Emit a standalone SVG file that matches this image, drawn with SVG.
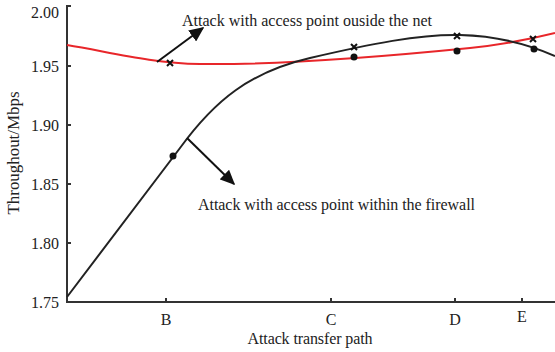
<svg xmlns="http://www.w3.org/2000/svg" width="555" height="352" viewBox="0 0 555 352">
  <defs>
    <style>
      .axis { stroke: #333; stroke-width: 2; fill: none; }
      .tick { stroke: #333; stroke-width: 2; }
      .lbl { font-family: "Liberation Serif", "Times New Roman", serif; font-size: 16px; fill: #222; }
      .black { stroke: #222; stroke-width: 2; fill: none; }
      .red { stroke: #e8262a; stroke-width: 2; fill: none; }
      .cross { stroke: #111; stroke-width: 2; }
      .dot { fill: #111; }
      .arrow { stroke: #111; stroke-width: 2; fill: none; }
    </style>
    <marker id="head" viewBox="0 0 10 9" refX="9" refY="4.5" markerWidth="7.5" markerHeight="6.75" markerUnits="strokeWidth" orient="auto">
      <path d="M0,0 L10,4.5 L0,9 Z" fill="#111"/>
    </marker>
  </defs>

  <rect width="555" height="352" fill="#fff"/>

  <!-- axes -->
  <g id="axes">
    <path class="axis" d="M67,5 L67,302 L555,302"/>
    <g class="tick">
      <line x1="67" y1="6" x2="71" y2="6"/>
      <line x1="67" y1="66" x2="71" y2="66"/>
      <line x1="67" y1="125" x2="71" y2="125"/>
      <line x1="67" y1="184" x2="71" y2="184"/>
      <line x1="67" y1="243" x2="71" y2="243"/>
      <line x1="166" y1="302" x2="166" y2="298"/>
      <line x1="331" y1="302" x2="331" y2="298"/>
      <line x1="455" y1="302" x2="455" y2="298"/>
      <line x1="522" y1="302" x2="522" y2="298"/>
    </g>
    <g class="lbl" text-anchor="end">
      <text x="59" y="18">2.00</text>
      <text x="59" y="72">1.95</text>
      <text x="59" y="131">1.90</text>
      <text x="59" y="190">1.85</text>
      <text x="59" y="249">1.80</text>
      <text x="59" y="308">1.75</text>
    </g>
    <g class="lbl" text-anchor="middle">
      <text x="166" y="325">B</text>
      <text x="331" y="325">C</text>
      <text x="455" y="325">D</text>
      <text x="522" y="322">E</text>
      <text x="310" y="344" textLength="125" lengthAdjust="spacing">Attack transfer path</text>
      <text transform="translate(19,153) rotate(-90)" textLength="123" lengthAdjust="spacingAndGlyphs">Throughout/Mbps</text>
    </g>
  </g>

  <!-- series curves -->
  <g id="series-outside">
    <path class="red" d="M67,45 C110,52 150,63 200,64 C280,65 400,55 470,48 C510,44 535,38 555,33"/>
  </g>
  <g id="series-within">
    <path class="black" d="M67,297 L180,148 C215,100 250,72 310,58 C370,44 420,34 460,35 C500,36 530,45 555,56"/>
  </g>

  <!-- data markers -->
  <g id="markers">
    <g class="cross">
      <path d="M167,60 L173,66 M173,60 L167,66"/>
      <path d="M351,44 L357,50 M357,44 L351,50"/>
      <path d="M454,33 L460,39 M460,33 L454,39"/>
      <path d="M530,36 L536,42 M536,36 L530,42"/>
    </g>
    <g class="dot">
      <circle cx="173" cy="156" r="3.5"/>
      <circle cx="354" cy="57" r="3.5"/>
      <circle cx="457" cy="51" r="3.5"/>
      <circle cx="534" cy="49" r="3.5"/>
    </g>
  </g>

  <!-- annotation connectors -->
  <g id="connectors">
    <line class="arrow" x1="157" y1="62" x2="203" y2="28" marker-end="url(#head)"/>
    <line class="arrow" x1="187" y1="138" x2="234" y2="184" marker-end="url(#head)"/>
  </g>

  <g id="annotation-outside">
    <text class="lbl" x="182" y="26" textLength="250" lengthAdjust="spacing">Attack with access point ouside the net</text>
  </g>
  <g id="annotation-within">
    <text class="lbl" x="198" y="210" textLength="277" lengthAdjust="spacing">Attack with access point within the firewall</text>
  </g>
</svg>
